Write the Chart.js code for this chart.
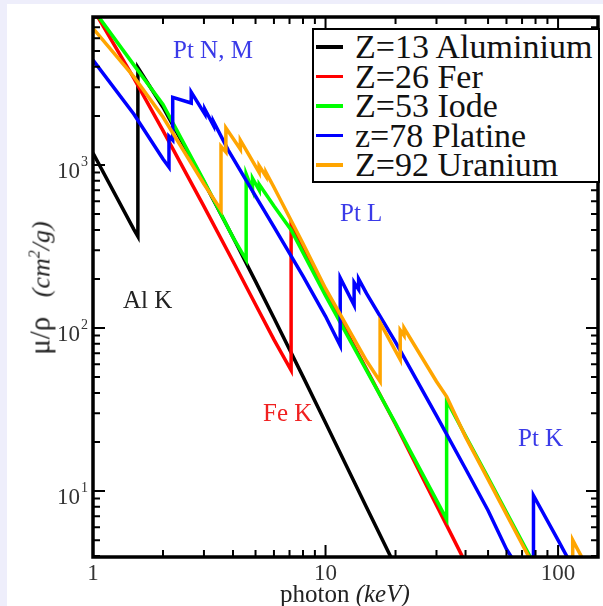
<!DOCTYPE html>
<html>
<head>
<meta charset="utf-8">
<script src="https://cdn.jsdelivr.net/npm/chart.js@4/dist/chart.umd.min.js"></script>
<style>
  html, body { margin: 0; padding: 0; background: #eeeefb; }
  #wrap { position: relative; width: 603px; height: 606px; overflow: hidden; }
  #panel { position: absolute; left: 7px; top: 4px; right: 0; bottom: 0; background: #fff; }
  #chart { position: absolute; left: 0; top: 0; }
  .txt { position: absolute; font-family: "Liberation Serif", "DejaVu Serif", serif; white-space: nowrap; }
  .note { font-size: 25px; line-height: 25px; }
  #legend { position: absolute; left: 312px; top: 28px; width: 288px; height: 155px; box-sizing: border-box;
            border: 2px solid #000; background: #fff; }
  .row { position: absolute; left: 0; height: 29.5px; }
  .row .swatch { position: absolute; left: 2px; width: 27px; height: 3.5px; top: 13px; }
  .row .lab { position: absolute; left: 41px; top: 0; font-family: "Liberation Serif", serif; font-size: 34px;
              line-height: 29.5px; color: #111; white-space: nowrap; }
</style>
</head>
<body>
<div id="wrap">
  <div id="panel"></div>
  <canvas id="chart" width="603" height="606"></canvas>
  <div id="legend"></div>
  <div class="txt note" style="left:173px; top:37px; color:#3a3ae8;">Pt N, M</div>
  <div class="txt note" style="left:340px; top:200px; color:#3a3ae8;">Pt L</div>
  <div class="txt note" style="left:123px; top:287px; color:#222;">Al K</div>
  <div class="txt note" style="left:263px; top:400px; color:#f02020;">Fe K</div>
  <div class="txt note" style="left:518px; top:425px; color:#3a3ae8;">Pt K</div>
  <div class="txt" style="left:280px; top:582px; font-size:25px; line-height:24px; color:#222;">photon <i>(keV)</i></div>
  <div class="txt" style="left:38px; top:288px; font-size:26px; line-height:26px; color:#222; transform: translate(-50%, -50%) rotate(-90deg);"><span style="font-size:29px">&mu;/&rho;</span>&nbsp;&nbsp;&nbsp;<i>(cm<sup style="font-size:16px; vertical-align: 10px;">2</sup>/g)</i></div>
</div>
<script>
// photon energy (keV) and mass attenuation mu/rho (cm2/g)
const alEnergy = [1, 1.5, 1.5596, 1.5596, 2, 3, 4, 5, 6, 8, 10, 15, 20];
const alMu     = [1185, 402, 365, 3957, 2263, 788, 360.5, 193.4, 115.3, 50.33, 26.23, 7.955, 3.441];

const feEnergy = [1, 1.5, 2, 3, 4, 5, 6, 7.112, 7.112, 8, 10, 15, 20, 30, 40];
const feMu     = [9085, 3399, 1626, 557.6, 256.7, 139.5, 84.84, 55, 420, 300, 165, 56, 25.7, 8.2, 3.63];

const iEnergy = [1, 1.5, 2, 3, 4, 4.557, 4.557, 4.852, 4.852, 5.188, 5.188, 6, 7.112, 8, 10, 15, 20, 30, 33.17, 33.17, 40, 50, 60, 80];
const iMu     = [9050, 4100, 2350, 800, 360, 262, 880, 700, 830, 700, 760, 560, 400, 290, 158, 55, 26, 8.8, 6.7, 36, 21.8, 12.1, 7.4, 3.43];

const ptEnergy = [1, 1.5, 2, 2.122, 2.122, 2.202, 2.202, 2.645, 2.645, 3.027, 3.027, 3.296, 3.296, 3.81, 5, 6, 8, 10,
                  11.564, 11.564, 13.273, 13.273, 13.88, 13.88, 15, 20, 30, 40, 50, 60, 78.39, 78.39, 100, 130];
const ptMu     = [4400, 2050, 1090, 970, 1500, 1420, 2600, 2400, 2800, 2050, 2200, 1750, 1850, 1240, 645, 417, 208, 118,
                  78, 203, 138, 190, 172, 200, 163, 82, 29, 13.7, 7.6, 4.4, 2.4, 9.4, 5.0, 2.5];

const uEnergy = [1, 1.5, 2, 3, 3.552, 3.552, 3.728, 3.728, 4.303, 4.303, 5.182, 5.182, 5.548, 5.548, 6, 8, 10, 15,
                 17.166, 17.166, 20.948, 20.948, 21.757, 21.757, 30, 33.17, 40, 50, 60, 80, 115.6, 115.6, 130];
const uMu     = [6900, 3470, 1970, 765, 530, 1300, 1200, 1690, 1250, 1420, 900, 990, 850, 900, 730, 330, 175, 63,
                 47, 108, 64, 97, 90, 100, 47, 38, 21.5, 11.8, 7.2, 3.3, 1.3, 5.0, 3.65];

const seriesLabels = ['Z=13 Aluminium', 'Z=26 Fer', 'Z=53 Iode', 'z=78 Platine', 'Z=92 Uranium'];
const seriesColors = ['#000000', '#ff0000', '#00ff00', '#0000ff', '#ffa500'];
const seriesX = [alEnergy, feEnergy, iEnergy, ptEnergy, uEnergy];
const seriesY = [alMu, feMu, iMu, ptMu, uMu];

const xMajor = [1, 10, 100];
const yMajor = [10, 100, 1000];

// legend (html)
const legend = document.getElementById('legend');
seriesLabels.forEach((lab, i) => {
  const row = document.createElement('div');
  row.className = 'row';
  row.style.top = (2 + i * 29.5) + 'px';
  row.innerHTML = `<div class="swatch" style="background:${seriesColors[i]}"></div><div class="lab">${lab}</div>`;
  legend.appendChild(row);
});

function minorValues(min, max) {
  const out = [];
  for (let d = Math.floor(Math.log10(min)); d <= Math.ceil(Math.log10(max)); d++) {
    for (let m = 1; m <= 9; m++) {
      const v = m * Math.pow(10, d);
      if (v >= min * 0.999 && v <= max * 1.001) out.push({ v, major: m === 1 });
    }
  }
  return out;
}

// frame, inward ticks and tick labels
const framePlugin = {
  id: 'frame',
  afterDatasetsDraw(chart) {
    const { ctx, chartArea: a, scales } = chart;
    const xs = scales.x, ys = scales.y;
    ctx.save();
    ctx.strokeStyle = '#000';
    ctx.lineWidth = 2;
    minorValues(xs.min, xs.max).forEach(({ v, major }) => {
      const px = xs.getPixelForValue(v);
      const len = major ? 12 : 7;
      ctx.beginPath();
      ctx.moveTo(px, a.bottom); ctx.lineTo(px, a.bottom - len);
      ctx.moveTo(px, a.top); ctx.lineTo(px, a.top + len);
      ctx.stroke();
    });
    minorValues(ys.min, ys.max).forEach(({ v, major }) => {
      const py = ys.getPixelForValue(v);
      const len = major ? 12 : 7;
      ctx.beginPath();
      ctx.moveTo(a.left, py); ctx.lineTo(a.left + len, py);
      ctx.moveTo(a.right, py); ctx.lineTo(a.right - len, py);
      ctx.stroke();
    });
    ctx.lineWidth = 3.5;
    ctx.strokeRect(a.left, a.top, a.right - a.left, a.bottom - a.top);

    ctx.fillStyle = '#333';
    ctx.font = '23px "Liberation Serif"';
    ctx.textAlign = 'center';
    ctx.textBaseline = 'alphabetic';
    xMajor.forEach((v) => ctx.fillText(String(v), xs.getPixelForValue(v), 580));
    yMajor.forEach((v) => {
      const py = ys.getPixelForValue(v);
      ctx.font = '23px "Liberation Serif"';
      ctx.textAlign = 'right';
      ctx.fillText('10', 80, py + 13);
      ctx.font = '14px "Liberation Serif"';
      ctx.textAlign = 'left';
      ctx.fillText(String(Math.round(Math.log10(v))), 81, py + 1);
    });
    ctx.restore();
  },
};

const datasets = seriesLabels.map((label, i) => ({
  label,
  data: seriesX[i].map((e, k) => ({ x: e, y: seriesY[i][k] })),
  borderColor: seriesColors[i],
  backgroundColor: seriesColors[i],
  borderWidth: 3.5,
  pointRadius: 0,
  tension: 0,
  fill: false,
  order: 5 - i,
}));

new Chart(document.getElementById('chart'), {
  type: 'line',
  data: { datasets },
  options: {
    responsive: false,
    animation: false,
    devicePixelRatio: 1,
    layout: { padding: { left: 0, top: 17, right: 5, bottom: 0 } },
    plugins: { legend: { display: false }, tooltip: { enabled: false } },
    scales: {
      x: {
        type: 'logarithmic', min: 1, max: 148.5,
        grid: { display: false }, border: { display: false }, ticks: { display: false },
        afterFit: (s) => { s.height = 49; },
      },
      y: {
        type: 'logarithmic', min: 3.94, max: 8090,
        grid: { display: false }, border: { display: false }, ticks: { display: false },
        afterFit: (s) => { s.width = 93; },
      },
    },
  },
  plugins: [framePlugin],
});
</script>
</body>
</html>
